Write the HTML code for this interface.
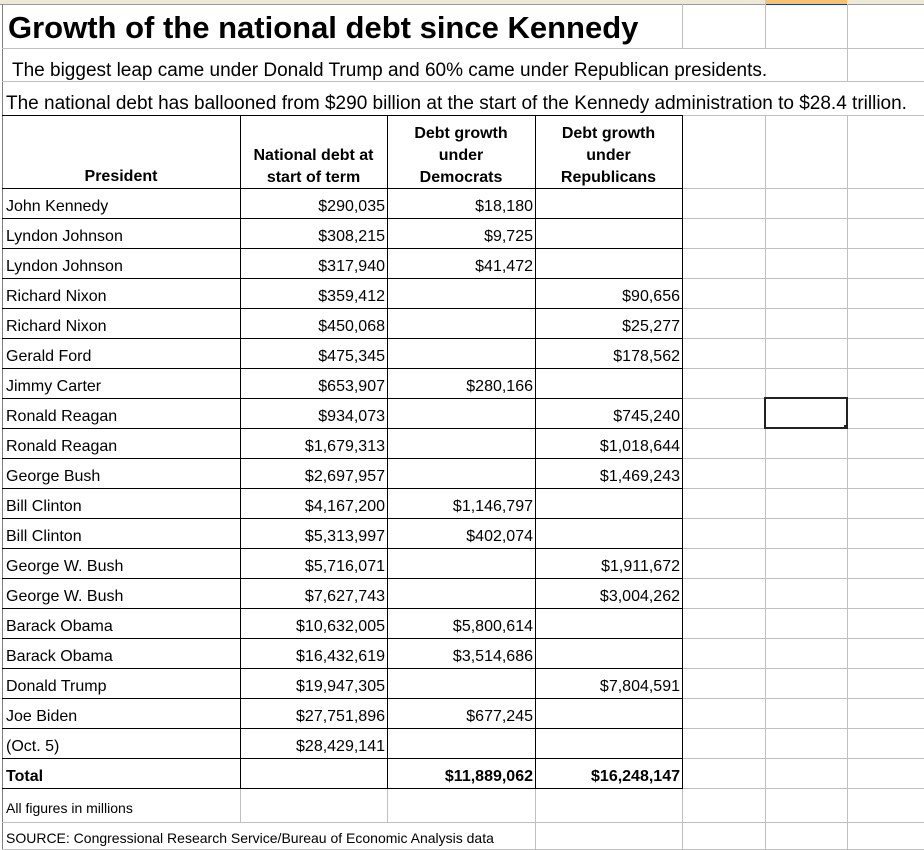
<!DOCTYPE html>
<html><head><meta charset="utf-8">
<style>
body{margin:0;width:924px;height:850px;overflow:hidden;background:#fff;font-family:"Liberation Sans",Arial,sans-serif;position:relative}
.a{position:absolute}
.hl{position:absolute;height:1px;background:#c0c0c0}
.vl{position:absolute;width:1px;background:#c0c0c0}
.bh{position:absolute;height:1px;background:#000}
.bv{position:absolute;width:1px;background:#000}
.t{position:absolute;font-size:16px;color:#000;white-space:nowrap}
</style></head><body>
<div class="a" style="left:0;top:0;width:924px;height:4px;background:#ece9d8;border-bottom:1px solid #999"></div>
<div class="a" style="left:765px;top:0;width:82px;height:4px;background:#f9c26e;border-bottom:1px solid #1a3b8f"></div>
<div class="vl" style="left:2px;top:4px;height:846px;background:#808080"></div>
<div id="grid"></div>
<div class="t" style="left:8px;top:10px;font-size:31px;font-weight:bold">Growth of the national debt since Kennedy</div>
<div class="t" style="left:12px;top:60px;font-size:19px">The biggest leap came under Donald Trump and 60% came under Republican presidents.</div>
<div class="t" style="left:6px;top:93px;font-size:19px">The national debt has ballooned from $290 billion at the start of the Kennedy administration to $28.4 trillion.</div>
<div class="t" style="left:2px;width:238px;top:168px;text-align:center;font-weight:bold">President</div>
<div class="t" style="left:240px;width:147px;top:145px;text-align:center;font-weight:bold;line-height:22px">National debt at<br>start of term</div>
<div class="t" style="left:387px;width:148px;top:123px;text-align:center;font-weight:bold;line-height:22px">Debt growth<br>under<br>Democrats</div>
<div class="t" style="left:535px;width:147px;top:123px;text-align:center;font-weight:bold;line-height:22px">Debt growth<br>under<br>Republicans</div>
<div id="rows"></div>
<div class="t" style="left:6px;top:800px;font-size:14px">All figures in millions</div>
<div class="t" style="left:6px;top:830px;font-size:14px">SOURCE: Congressional Research Service/Bureau of Economic Analysis data</div>
<div class="a" style="left:764px;top:397px;width:80px;height:28px;border:2px solid #222"></div>
<div class="a" style="left:844px;top:425px;width:4px;height:4px;background:#222"></div>
<script>
const presidents=["John Kennedy","Lyndon Johnson","Lyndon Johnson","Richard Nixon","Richard Nixon","Gerald Ford","Jimmy Carter","Ronald Reagan","Ronald Reagan","George Bush","Bill Clinton","Bill Clinton","George W. Bush","George W. Bush","Barack Obama","Barack Obama","Donald Trump","Joe Biden","(Oct. 5)"];
const debtStart=["$290,035","$308,215","$317,940","$359,412","$450,068","$475,345","$653,907","$934,073","$1,679,313","$2,697,957","$4,167,200","$5,313,997","$5,716,071","$7,627,743","$10,632,005","$16,432,619","$19,947,305","$27,751,896","$28,429,141"];
const demGrowth=["$18,180","$9,725","$41,472","","","","$280,166","","","","$1,146,797","$402,074","","","$5,800,614","$3,514,686","","$677,245",""];
const repGrowth=["","","","$90,656","$25,277","$178,562","","$745,240","$1,018,644","$1,469,243","","","$1,911,672","$3,004,262","","","$7,804,591","",""];
const totals=["","$11,889,062","$16,248,147"];
const g=document.getElementById('grid');
function line(cls,l,t,w,h,name){const d=document.createElement('div');d.className=cls;d.style.left=l+'px';d.style.top=t+'px';if(w)d.style.width=w+'px';if(h)d.style.height=h+'px';


g.appendChild(d);}
[48,81,115].forEach(y=>line('hl',2,y,922,0,'gridline-h'));
for(let i=0;i<=20;i++){const y=188+i*30;line('hl',682,y,242,0,'gridline-h');}
line('hl',2,822,922,0,'gridline-h');line('hl',2,849,922,0,'gridline-h');
[682,765,847].forEach(x=>line('vl',x,4,0,44,'gridline-v'));
line('vl',847,48,0,33,'gridline-v');
[765,847].forEach(x=>line('vl',x,115,0,735,'gridline-v'));
[240,387].forEach(x=>line('vl',x,788,0,34,'gridline-v'));
[535,682].forEach(x=>line('vl',x,788,0,62,'gridline-v'));
line('bh',2,115,681,0,'table-border');
for(let i=0;i<=20;i++)line('bh',2,188+i*30,681,0,'table-border');
[240,387,535,682].forEach(x=>line('bv',x,115,0,673,'table-border'));
const R=document.getElementById('rows');
function txt(s,l,w,top,align,bold,name){const d=document.createElement('div');d.className='t';d.textContent=s;d.style.left=l+'px';d.style.width=w+'px';d.style.top=top+'px';d.style.textAlign=align;if(bold)d.style.fontWeight='bold';


R.appendChild(d);}
presidents.forEach((p,i)=>{const top=198+i*30;
txt(p,6,230,top,'left',false,'president-cell');
txt(debtStart[i],240,145,top,'right',false,'debt-start-cell');
txt(demGrowth[i],387,146,top,'right',false,'dem-growth-cell');
txt(repGrowth[i],535,145,top,'right',false,'rep-growth-cell');});
const tt=198+19*30;
txt('Total',6,230,tt,'left',true,'total-label');
txt(totals[1],387,146,tt,'right',true,'total-democrats');
txt(totals[2],535,145,tt,'right',true,'total-republicans');
</script>
</body></html>
